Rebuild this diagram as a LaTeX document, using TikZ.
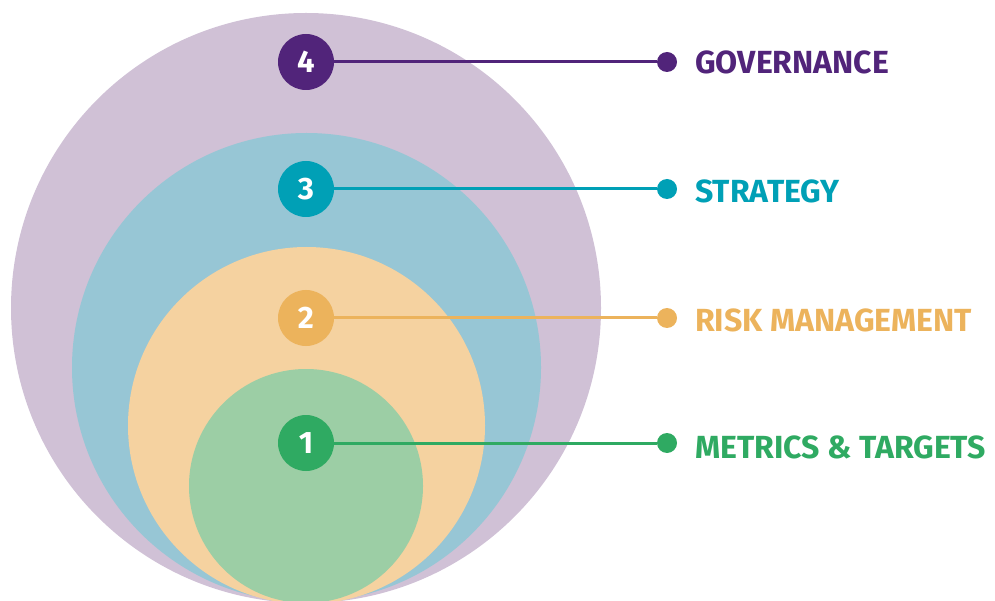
\documentclass[tikz,border=0pt]{standalone}
\usepackage{fontspec}
\setmainfont{Fira Sans}
\begin{document}
\begin{tikzpicture}[x=1pt,y=-1pt,
  marker/.style={circle,minimum size=56pt,inner sep=0pt,text=white,font=\fontsize{31}{33}\selectfont\bfseries},
  dot/.style={circle,minimum size=20pt,inner sep=0pt},
  lbl/.style={anchor=west,inner sep=0pt,font=\fontsize{32}{34}\selectfont\bfseries},
  conn/.style={line width=3pt}]
\definecolor{pL}{HTML}{D0C1D6}\definecolor{pD}{HTML}{51247A}
\definecolor{bL}{HTML}{97C6D5}\definecolor{bD}{HTML}{00A0B6}
\definecolor{oL}{HTML}{F5D2A0}\definecolor{oD}{HTML}{ECB35C}
\definecolor{gL}{HTML}{9CCEA5}\definecolor{gD}{HTML}{2FAA62}
\useasboundingbox (0,0) rectangle (995,601);
\clip (0,0) rectangle (995,601);
\fill[pL] (306,308) circle[radius=295];
\fill[bL] (306.5,367.5) circle[radius=234.5];
\fill[oL] (306.5,425.5) circle[radius=178.5];
\fill[gL] (306,486) circle[radius=117];
\node[marker,fill=pD] (m4) at (306,62) {4};
\node[marker,fill=bD] (m3) at (306,189) {3};
\node[marker,fill=oD] (m2) at (306,318) {2};
\node[marker,fill=gD] (m1) at (306,443) {1};
\node[dot,fill=pD] (d4) at (667,62) {};
\node[dot,fill=bD] (d3) at (667,189) {};
\node[dot,fill=oD] (d2) at (667,318) {};
\node[dot,fill=gD] (d1) at (667,443) {};
\draw[conn,pD] (m4) -- (d4);
\draw[conn,bD] (m3) -- (d3);
\draw[conn,oD] (m2) -- (d2);
\draw[conn,gD] (m1) -- (d1);
\node[lbl,text=pD] (l4) at (695,62) {GOVERNANCE};
\node[lbl,text=bD] (l3) at (695,191) {STRATEGY};
\node[lbl,text=oD] (l2) at (695,320) {RISK MANAGEMENT};
\node[lbl,text=gD] (l1) at (695,447) {METRICS \& TARGETS};
\end{tikzpicture}
\end{document}
